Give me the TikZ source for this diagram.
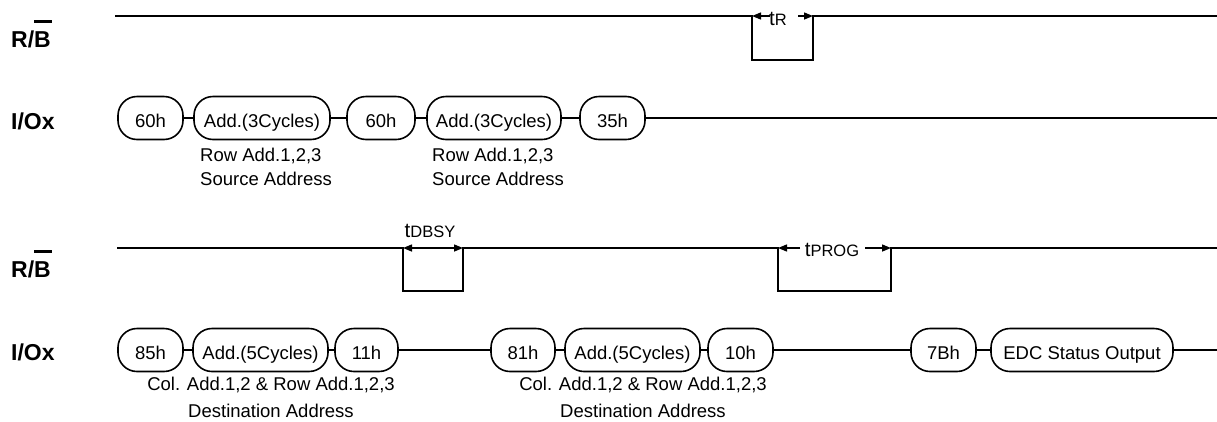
\documentclass[tikz,border=0pt]{standalone}
\usepackage{fontspec}
\setmainfont{Liberation Sans}
\usetikzlibrary{arrows.meta}
\begin{document}
\begin{tikzpicture}[x=1pt,y=-1pt,
  sig/.style={line width=2.2pt},
  conn/.style={line width=2pt},
  pill/.style={draw, line width=1.6pt, rounded corners=19pt, inner sep=0pt,
    minimum height=43pt, text height=19pt, text depth=0pt,
    font=\fontsize{18.5}{22}\selectfont},
  lbl/.style={font=\bfseries\fontsize{23}{26}\selectfont, inner sep=0pt, anchor=base west},
  note/.style={font=\fontsize{18.5}{22}\selectfont, inner sep=0pt},
  tlab/.style={inner sep=0pt, font=\fontsize{20.5}{22}\selectfont},
  tarr/.style={line width=1.4pt, -{Triangle[length=9pt,width=7pt]}},
  tarrb/.style={line width=1.4pt, {Triangle[length=9pt,width=7pt]}-{Triangle[length=9pt,width=7pt]}}
]
\useasboundingbox (0,0) rectangle (1217,421);
\newcommand{\subsz}{\fontsize{16.5}{18}\selectfont}

% labels
\node[lbl] (rb1) at (11,47) {R/\rlap{\rule[24.5pt]{18pt}{3pt}}B};
\node[lbl] (io1) at (11,129) {I/Ox};
\node[lbl] (rb2) at (11,277) {R/\rlap{\rule[24.5pt]{18pt}{3pt}}B};
\node[lbl] (io2) at (11,360) {I/Ox};

% top R/B signal
\coordinate (r0) at (115,16);
\coordinate (r1) at (752,16);
\coordinate (r2) at (752,60);
\coordinate (r3) at (813,60);
\coordinate (r4) at (813,16);
\coordinate (r5) at (1217,16);
\draw[sig] (r0) -- (r1) -- (r2) -- (r3) -- (r4) -- (r5);
\node[tlab, anchor=base west] (tr) at (769,25) {t{\subsz R}};
\coordinate (trl) at (770,16);
\coordinate (trr) at (798,16);
\draw[tarr] (trl) -- (r1);
\draw[tarr] (trr) -- (r4);

% top I/O
\node[pill, minimum width=65pt] (a1) at (150.5,118) {60h};
\node[pill, minimum width=136pt] (a2) at (262,118) {Add.(3Cycles)};
\node[pill, minimum width=68pt] (a3) at (381,118) {60h};
\node[pill, minimum width=134pt] (a4) at (494,118) {Add.(3Cycles)};
\node[pill, minimum width=65pt] (a5) at (612.5,118) {35h};
\coordinate (aend) at (1217,118);
\draw[conn] (a1) -- (a2);
\draw[conn] (a2) -- (a3);
\draw[conn] (a3) -- (a4);
\draw[conn] (a4) -- (a5);
\draw[conn] (a5) -- (aend);
\node[note, anchor=base west] (n1) at (200,161) {Row Add.1,2,3};
\node[note, anchor=base west] (n2) at (200,185) {Source Address};
\node[note, anchor=base west] (n3) at (432,161) {Row Add.1,2,3};
\node[note, anchor=base west] (n4) at (432,185) {Source Address};

% bottom R/B signal
\coordinate (s0) at (117,248);
\coordinate (s1) at (403,248);
\coordinate (s2) at (403,291);
\coordinate (s3) at (463,291);
\coordinate (s4) at (463,248);
\coordinate (s5) at (778,248);
\coordinate (s6) at (778,291);
\coordinate (s7) at (891,291);
\coordinate (s8) at (891,248);
\coordinate (s9) at (1217,248);
\draw[sig] (s0) -- (s1) -- (s2) -- (s3) -- (s4) -- (s5) -- (s6) -- (s7) -- (s8) -- (s9);
\node[tlab, anchor=base] (tdb) at (430,237) {t{\subsz DBSY}};
\draw[tarrb] (s1) -- (s4);
\node[tlab, anchor=base] (tpg) at (832,256) {t{\subsz PROG}};
\coordinate (tpl) at (800,248);
\coordinate (tpr) at (865,248);
\draw[tarr] (tpl) -- (s5);
\draw[tarr] (tpr) -- (s8);

% bottom I/O
\node[pill, minimum width=65pt] (b1) at (150.5,350) {85h};
\node[pill, minimum width=135pt] (b2) at (260.5,350) {Add.(5Cycles)};
\node[pill, minimum width=63pt] (b3) at (366.5,350) {11h};
\node[pill, minimum width=64pt] (b4) at (523,350) {81h};
\node[pill, minimum width=135pt] (b5) at (632.5,350) {Add.(5Cycles)};
\node[pill, minimum width=65pt] (b6) at (740.5,350) {10h};
\node[pill, minimum width=65pt] (b7) at (943.5,350) {7Bh};
\node[pill, minimum width=182pt] (b8) at (1082,350) {EDC Status Output};
\coordinate (bend) at (1217,350);
\draw[conn] (b1) -- (b2);
\draw[conn] (b2) -- (b3);
\draw[conn] (b3) -- (b4);
\draw[conn] (b4) -- (b5);
\draw[conn] (b5) -- (b6);
\draw[conn] (b6) -- (b7);
\draw[conn] (b7) -- (b8);
\draw[conn] (b8) -- (bend);
\node[note, anchor=base] (n5) at (271,390) {Col. Add.1,2 \& Row Add.1,2,3};
\node[note, anchor=base] (n6) at (271,417) {Destination Address};
\node[note, anchor=base] (n7) at (643,390) {Col. Add.1,2 \& Row Add.1,2,3};
\node[note, anchor=base] (n8) at (643,417) {Destination Address};
\end{tikzpicture}
\end{document}
